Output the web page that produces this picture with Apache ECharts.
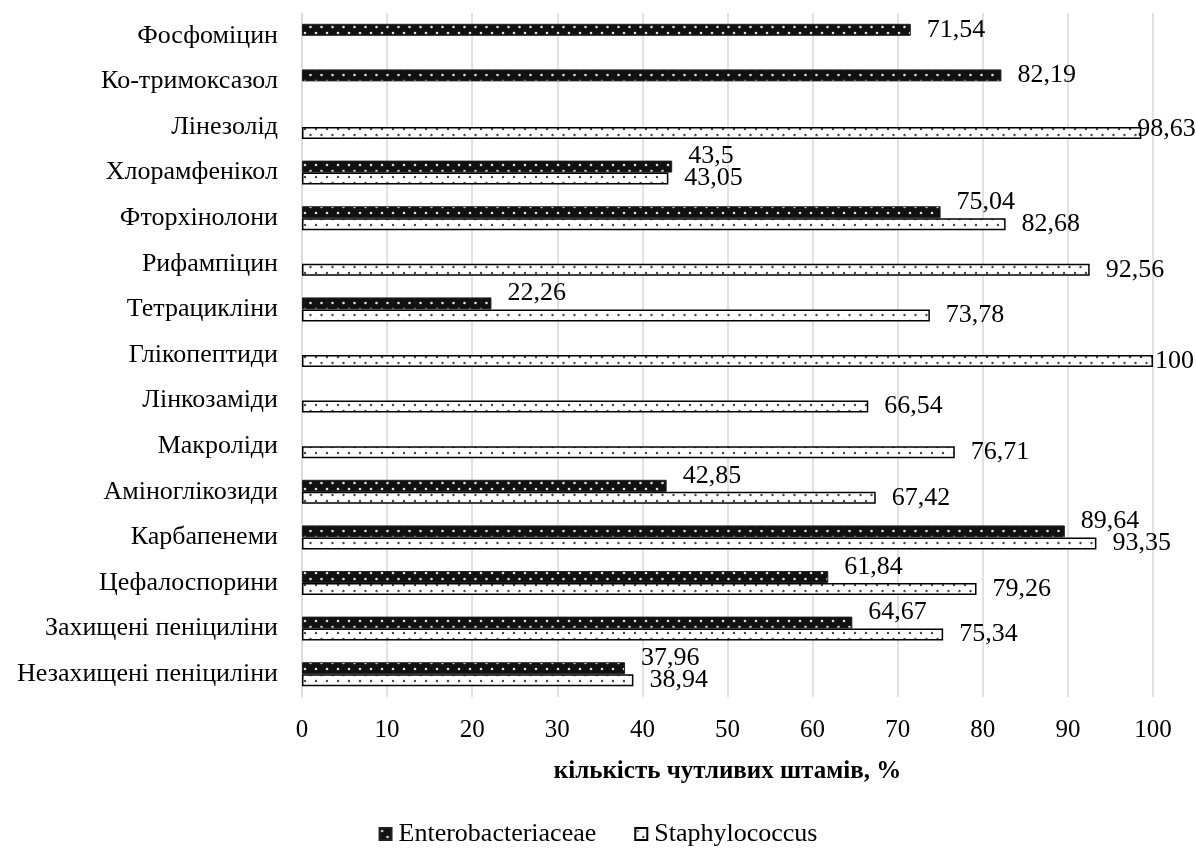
<!DOCTYPE html>
<html>
<head>
<meta charset="utf-8">
<script src="https://cdn.jsdelivr.net/npm/echarts@6/dist/echarts.min.js"></script>
<style>
html,body{margin:0;padding:0;background:#fff;}
#c{width:1196px;height:849px;}
</style>
</head>
<body>
<div id="c"></div>
<script>
const categories = ['Фосфоміцин','Ко-тримоксазол','Лінезолід','Хлорамфенікол','Фторхінолони','Рифампіцин','Тетрацикліни','Глікопептиди','Лінкозаміди','Макроліди','Аміноглікозиди','Карбапенеми','Цефалоспорини','Захищені пеніциліни','Незахищені пеніциліни'];
const enterobacteriaceae = [71.54, 82.19, null, 43.5, 75.04, null, 22.26, null, null, null, 42.85, 89.64, 61.84, 64.67, 37.96];
const staphylococcus = [null, null, 98.63, 43.05, 82.68, 92.56, 73.78, 100, 66.54, 76.71, 67.42, 93.35, 79.26, 75.34, 38.94];
const xTicks = [0,10,20,30,40,50,60,70,80,90,100];

function makeTile(bg, dot, r) {
  const c = document.createElement('canvas');
  c.width = 11; c.height = 12;
  const g = c.getContext('2d');
  g.fillStyle = bg; g.fillRect(0,0,11,12);
  g.fillStyle = dot;
  g.beginPath(); g.arc(2.5,3,r,0,Math.PI*2); g.fill();
  g.beginPath(); g.arc(8,9,r,0,Math.PI*2); g.fill();
  return c;
}
const darkPattern = {image: makeTile('#111111', '#e0e0e0', 1.3), repeat: 'repeat'};
const lightPattern = {image: makeTile('#ffffff', '#444444', 1.2), repeat: 'repeat'};

const fmt = v => String(v).replace('.', ',');
const FONT = 'Liberation Serif';

const eData = enterobacteriaceae.map((v, i) => {
  if (v === null) return null;
  const paired = staphylococcus[i] !== null;
  return {value: v, label: {offset: paired ? [0, -10] : [0, 0]}};
});
const sData = staphylococcus.map((v, i) => {
  if (v === null) return null;
  const item = {value: v};
  if (v >= 98) item.label = {distance: 2, offset: v === 100 ? [0, 0] : [-6, -4]};
  return item;
});

const chart = echarts.init(document.getElementById('c'));
chart.setOption({
  animation: false,
  textStyle: {fontFamily: FONT, color: '#000'},
  grid: {left: 302, right: 43, top: 13, bottom: 152, containLabel: false},
  legend: {
    data: ['Enterobacteriaceae', 'Staphylococcus'],
    top: 816, left: 'center',
    icon: 'rect', itemWidth: 12, itemHeight: 12, itemGap: 38,
    textStyle: {fontFamily: FONT, fontSize: 26, color: '#000', padding: [0,0,0,2]}
  },
  xAxis: {
    type: 'value', min: 0, max: 100, interval: 10,
    name: 'кількість чутливих штамів, %', nameLocation: 'middle', nameGap: 62,
    nameTextStyle: {fontFamily: FONT, fontSize: 25, fontWeight: 'bold', color: '#000'},
    axisLine: {show: false}, axisTick: {show: false},
    axisLabel: {fontFamily: FONT, fontSize: 25, color: '#000', margin: 21,
      formatter: v => xTicks.includes(v) ? String(v) : ''},
    splitLine: {show: true, lineStyle: {color: '#d9d9d9', width: 1.5}}
  },
  yAxis: {
    type: 'category', data: categories, inverse: true,
    axisLine: {show: true, lineStyle: {color: '#d9d9d9', width: 1.5}},
    axisTick: {show: false},
    axisLabel: {fontFamily: FONT, fontSize: 26, color: '#000', margin: 24}
  },
  series: [
    {
      name: 'Enterobacteriaceae', type: 'bar', data: eData,
      barWidth: 12, barGap: '0%',
      itemStyle: {color: darkPattern, borderColor: '#222', borderWidth: 1},
      label: {show: true, position: 'right', distance: 16, fontFamily: FONT, fontSize: 26, color: '#000',
        formatter: p => fmt(p.value)}
    },
    {
      name: 'Staphylococcus', type: 'bar', data: sData,
      barWidth: 12, barGap: '0%',
      itemStyle: {color: lightPattern, borderColor: '#000', borderWidth: 1.5},
      label: {show: true, position: 'right', distance: 16, fontFamily: FONT, fontSize: 26, color: '#000',
        formatter: p => fmt(p.value)}
    }
  ]
});
</script>
</body>
</html>
